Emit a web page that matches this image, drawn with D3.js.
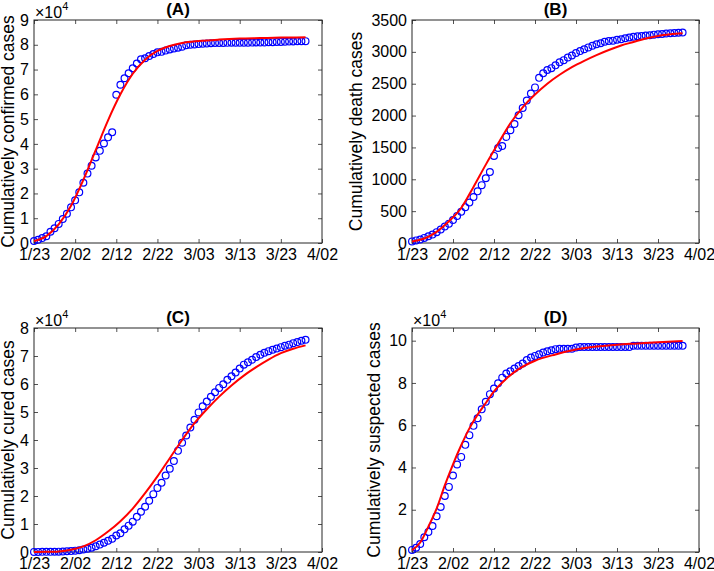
<!DOCTYPE html>
<html><head><meta charset="utf-8">
<script src="https://cdn.jsdelivr.net/npm/d3@7"></script>
<style>
body{margin:0;background:#fff}
svg{display:block}
text{font-family:"Liberation Sans",Arial,Helvetica,sans-serif;fill:#000}
</style>
</head><body>
<svg id="chart" width="714" height="571"></svg>
<script>
// ---- data ----
const xTickDays = [0,10,20,30,40,50,60,70];
const xTickLabels = ["1/23","2/02","2/12","2/22","3/03","3/13","3/23","4/02"];
const obsDays = d3.range(0,67); // 1/23 .. 3/29

const confirmed = [830,1287,1975,2744,4515,5974,7711,9692,11791,
 14380,17205,20438,24324,28018,31161,34546,37198,40171,42638,44653,59804,63851,66492,68500,70548,72436,74185,74576,75465,76288,76936,77150,77658,78064,78497,78824,79251,79824,
 80026,80151,80270,80409,80552,80651,80695,80735,80754,80778,80793,80813,80824,80844,80860,80881,80894,80928,80967,81008,81054,81093,81171,81218,81285,81340,81394,81439,81470];
const deaths = [25,41,56,80,106,132,170,213,259,
 304,361,425,490,563,636,722,811,908,1016,1113,1367,1490,1523,1665,1770,1868,2004,2118,2236,2345,2442,2592,2663,2715,2744,2788,2835,2870,
 2912,2943,2981,3012,3042,3070,3097,3119,3136,3158,3169,3176,3189,3199,3213,3226,3237,3245,3248,3255,3261,3270,3277,3281,3287,3292,3295,3300,3304];
const cured = [34,38,49,51,60,103,124,171,243,
 328,475,632,892,1153,1540,2050,2649,3281,3996,4740,5911,6723,8096,9419,10844,12552,14376,16155,18264,20659,22888,24734,27323,29745,32495,36117,39002,41625,
 44462,47204,49856,52045,53726,55404,57065,58600,59897,61475,62793,64111,65541,66911,67749,68679,69601,70420,71150,71740,72244,72703,73159,73650,74051,74588,74971,75448,75790];
const suspected = [1000,2000,3800,7000,9500,12300,16900,21300,26500,30800,36200,41400,45000,50700,55300,59700,63300,67500,71100,74700,77400,79800,82500,84500,85500,86800,88000,89200,90800,92000,92800,93600,94400,95000,95500,96000,96200,96200,96200,96200,96800,
 97000,97000,97000,97000,97000,97000,97000,97000,97000,97000,97000,97000,97000,
 97600,97600,97600,97600,97600,97600,97600,97600,97600,97600,97600,97600,97600];

const fitDaysA = [0,3,6,9,12,15,18,21,24,27,30,33,36,40,45,50,55,60,66];
const fitA = [800,2800,7500,15000,25500,37500,49500,60000,68300,74000,77500,79500,80700,81500,82100,82500,82700,82900,83000];
const fitDaysB = [0,3,6,9,12,15,18,21,24,27,30,33,36,39,42,45,48,51,54,57,60,63,66];
const fitB = [25,70,175,340,550,880,1230,1560,1880,2130,2330,2500,2640,2760,2860,2950,3030,3100,3155,3210,3250,3275,3292];
const fitDaysC = [0,3,6,9,12,15,18,21,24,27,30,33,36,39,42,45,48,51,54,57,60,63,66];
const fitC = [0,50,220,800,2000,4200,7300,11000,15500,21000,27000,33500,40000,46000,51000,55500,59500,63000,66000,68700,71000,72600,73800];
const fitDaysD = [0,2,4,6,8,10,12,14,16,18,20,23,26,30,35,40,45,50,55,60,66];
const fitD = [800,4500,12000,20500,31500,41500,50500,58500,65000,70500,76000,82000,86500,90500,93500,95800,97200,98100,98700,99300,99900];

const yTicksA = d3.range(0,90001,10000);
const yTicksB = d3.range(0,3501,500);
const yTicksC = d3.range(0,80001,10000);
const yTicksD = d3.range(0,100001,20000);

// ---- layout ----
const panels = [
  {title:"(A)", ylabel:"Cumulatively confirmed cases", x0:34, x1:322, y0:20, y1:243, ymax:90000, ticks:yTicksA, scaleExp:true, obs:confirmed, fd:fitDaysA, fv:fitA, labX:13.5},
  {title:"(B)", ylabel:"Cumulatively death cases", x0:412, x1:699, y0:20, y1:243, ymax:3500, ticks:yTicksB, scaleExp:false, obs:deaths, fd:fitDaysB, fv:fitB, labX:362},
  {title:"(C)", ylabel:"Cumulatively cured cases", x0:34, x1:322, y0:328, y1:552, ymax:80000, ticks:yTicksC, scaleExp:true, obs:cured, fd:fitDaysC, fv:fitC, labX:13.5},
  {title:"(D)", ylabel:"Cumulatively suspected cases", x0:412, x1:699, y0:328, y1:552, ymax:106000, ticks:yTicksD, scaleExp:true, obs:suspected, fd:fitDaysD, fv:fitD, labX:380}
];

const svg = d3.select("#chart");
const axisColor = "#262626";

panels.forEach(p => {
  const x = d3.scaleLinear().domain([0,70]).range([p.x0,p.x1]);
  const y = d3.scaleLinear().domain([0,p.ymax]).range([p.y1,p.y0]);
  const g = svg.append("g");
  const fmtY = d => p.scaleExp ? String(d/10000) : String(d);

  const styleAxis = sel => {
    sel.select(".domain").remove();
    sel.selectAll(".tick line").attr("stroke",axisColor).attr("stroke-width",0.8);
    sel.selectAll(".tick text").attr("font-size",16).attr("fill","#000");
  };

  g.append("g").attr("transform",`translate(0,${p.y1})`)
    .call(d3.axisBottom(x).tickValues(xTickDays).tickFormat((d,i)=>xTickLabels[i]).tickSizeInner(-4).tickSizeOuter(0).tickPadding(6))
    .call(styleAxis);
  g.append("g").attr("transform",`translate(0,${p.y0})`)
    .call(d3.axisTop(x).tickValues(xTickDays).tickFormat("").tickSizeInner(-4).tickSizeOuter(0))
    .call(styleAxis);
  g.append("g").attr("transform",`translate(${p.x0},0)`)
    .call(d3.axisLeft(y).tickValues(p.ticks).tickFormat(fmtY).tickSizeInner(-4).tickSizeOuter(0).tickPadding(5))
    .call(styleAxis);
  g.append("g").attr("transform",`translate(${p.x1},0)`)
    .call(d3.axisRight(y).tickValues(p.ticks).tickFormat("").tickSizeInner(-4).tickSizeOuter(0))
    .call(styleAxis);

  g.append("rect").attr("x",p.x0).attr("y",p.y0).attr("width",p.x1-p.x0).attr("height",p.y1-p.y0)
    .attr("fill","none").attr("stroke",axisColor).attr("stroke-width",1);

  // observed points
  g.append("g").selectAll("circle").data(p.obs).join("circle")
    .attr("cx",(d,i)=>x(obsDays[i])).attr("cy",d=>y(d)).attr("r",3.4)
    .attr("fill","none").attr("stroke","#0000ff").attr("stroke-width",1.2);

  // fitted curve
  const line = d3.line().x((d,i)=>x(p.fd[i])).y(d=>y(d)).curve(d3.curveMonotoneX);
  g.append("path").datum(p.fv).attr("d",line)
    .attr("fill","none").attr("stroke","#ff0000").attr("stroke-width",2);

  // title
  g.append("text").attr("x",(p.x0+p.x1)/2).attr("y",p.y0-5.5).attr("text-anchor","middle")
    .attr("font-size",17).attr("font-weight","bold").text(p.title);

  // y label
  g.append("text").attr("transform",`translate(${p.labX},${(p.y0+p.y1)/2}) rotate(-90)`)
    .attr("text-anchor","middle").attr("font-size",17.5).text(p.ylabel);

  // exponent
  if (p.scaleExp) {
    const t = g.append("text").attr("x",p.x0+1).attr("y",p.y0-2).attr("font-size",16).attr("fill","#262626");
    t.append("tspan").text("\u00d710");
    t.append("tspan").attr("font-size",11).attr("dy",-8).text("4");
  }
});
</script>
</body></html>
